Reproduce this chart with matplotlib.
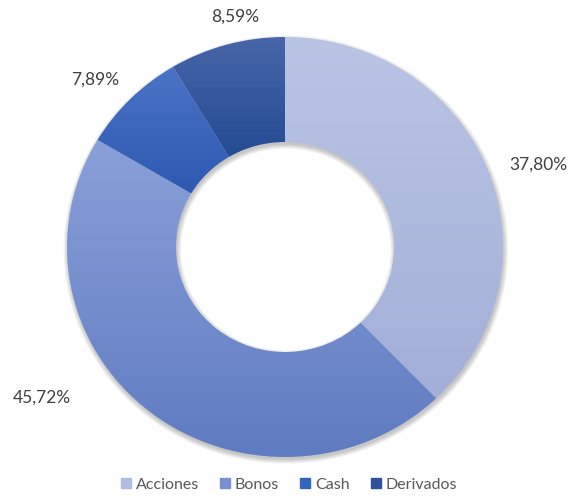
import numpy as np
import matplotlib.pyplot as plt
from matplotlib.patches import Wedge
from matplotlib.colors import LinearSegmentedColormap

categorias = ["Acciones", "Bonos", "Cash", "Derivados"]
valores = [37.80, 45.72, 7.89, 8.59]
etiquetas = ["37,80%", "45,72%", "7,89%", "8,59%"]

# gradient colours per slice (top, bottom)
col_sup = ["#bac4e5", "#8aa0d9", "#4b74c6", "#4866a9"]
col_inf = ["#a3afd8", "#5f7bc1", "#2e59b1", "#244b93"]
col_leyenda = ["#b1bce1", "#7890d0", "#3564be", "#2f509a"]

W, H = 577, 498
cx, cy = 285, 247      # pixel centre of the donut
rx, ry = 218, 210      # pixel radii (image is slightly stretched)

fig = plt.figure(figsize=(W / 100, H / 100), dpi=100)
ax = fig.add_axes([0, 0, 1, 1])

wedges, _ = ax.pie(valores, startangle=90, counterclock=False, radius=1,
                   wedgeprops=dict(width=0.5, linewidth=0))
ax.set_aspect("auto")
ax.axis("off")

# soft shadow under the ring
for i in range(6):
    s = Wedge((0.004, -0.012), 1.0 + 0.004 * i, 0, 360, width=0.5 + 0.008 * i,
              facecolor="#000000", alpha=0.04, linewidth=0, zorder=0)
    ax.add_patch(s)

# vertical gradient in each slice
for w, c1, c2 in zip(wedges, col_sup, col_inf):
    w.set_facecolor("none")
    ext = w.get_path().get_extents()
    cmap = LinearSegmentedColormap.from_list("g", [c1, c2])
    grad = np.linspace(0, 1, 256).reshape(-1, 1)
    im = ax.imshow(grad, cmap=cmap, aspect="auto", origin="upper",
                   extent=[ext.x0, ext.x1, ext.y0, ext.y1], zorder=2,
                   interpolation="bilinear")
    im.set_clip_path(w)

# percentage labels (pixel positions of the label centres)
pos_lbl = [(538, 165), (42, 398), (95, 80), (235, 17)]
for txt, (px, py) in zip(etiquetas, pos_lbl):
    ax.text((px - cx) / rx, (cy - py) / ry, txt, ha="center", va="center",
            fontsize=12.5, color="#404040", family="Lato")

ax.set_xlim(-cx / rx, (W - cx) / rx)
ax.set_ylim(-(H - cy) / ry, cy / ry)

handles = [plt.Rectangle((0, 0), 1, 1, color=c) for c in col_leyenda]
fig.legend(handles, categorias, loc="center", bbox_to_anchor=(289 / W, 1 - 485 / H),
           ncol=4, frameon=False, handlelength=0.6, handleheight=0.6,
           handletextpad=0.3, columnspacing=1.35,
           prop=dict(family="Lato", size=11.5), labelcolor="#595959")

fig.savefig("out.png", dpi=100)
